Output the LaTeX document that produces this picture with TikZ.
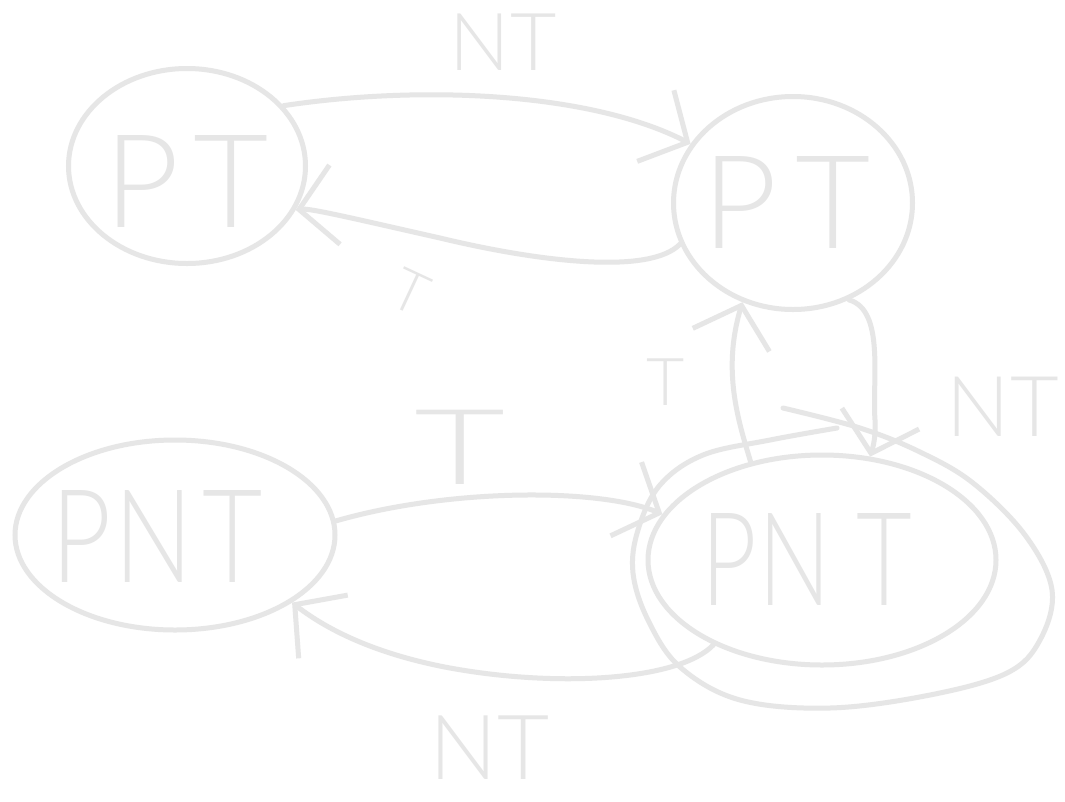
\documentclass[tikz,border=0pt]{standalone}
\usepackage{fontspec}
\usetikzlibrary{shapes.geometric,arrows.meta}
\IfFontExistsTF{Lato Light}{\newfontfamily\hand{Lato Light}}{%
  \IfFontExistsTF{Open Sans Light}{\newfontfamily\hand{Open Sans Light}}{%
   \IfFontExistsTF{Lato Thin}{\newfontfamily\hand{Lato Thin}}{%
    \newfontfamily\hand{Liberation Sans}}}}
\definecolor{ink}{RGB}{230,230,230}
\newcommand{\fs}[1]{\hand\fontsize{#1}{#1}\selectfont}
\begin{document}
\begin{tikzpicture}[x=1pt,y=-1pt,
  state/.style={ellipse, draw=ink, line width=5pt, inner sep=0pt, text=ink, font=\fs{130}},
  conn/.style={draw=ink, line width=5pt, line cap=round, line join=round,
    -{Straight Barb[length=36pt,width=80pt]}},
  loopline/.style={draw=ink, line width=5pt, line cap=round, line join=round},
  lbl/.style={text=ink, inner sep=0pt}]
\useasboundingbox[fill=white] (0,0) rectangle (1065,801);
% states
\node[state, minimum width=237pt, minimum height=195pt] (ptL) at (187,166)
  {\raisebox{-16pt}[\height][\depth]{P\hspace{14pt}T}};
\node[state, minimum width=239pt, minimum height=213pt] (ptR) at (793,203)
  {\hspace*{-12pt}P\hspace{18pt}T};
\node[state, minimum width=320pt, minimum height=190pt] (pntL) at (175,535)
  {\hspace*{-36pt}\raisebox{-2pt}[\height][\depth]{\scalebox{0.8}[1]{P\hspace{4pt}N\hspace{12pt}T}}};
\node[state, minimum width=348pt, minimum height=210pt] (pntR) at (822,560)
  {\hspace*{-30pt}\scalebox{0.74}[1]{P\hspace{2pt}N\hspace{34pt}T}};
% labels
\node[lbl, font=\fs{80}] (lNTa) at (503,42) {NT};
\node[lbl, font=\fs{58}, rotate=-25] (lTa) at (410,292) {T};
\node[lbl, font=\fs{105}] (lTb) at (460,447) {\scalebox{1.5}[1]{T}};
\node[lbl, font=\fs{66}] (lTc) at (666,382) {T};
\node[lbl, font=\fs{84}] (lNTb) at (1003,407) {NT};
\node[lbl, font=\fs{90}] (lNTc) at (490,748) {NT};
% connectors
\draw[conn] (ptL.32) .. controls (420,85) and (590,92) .. (ptR.150);
\draw[conn] (ptR.200) .. controls (650,275) and (540,262) .. (440,238)
  .. controls (360,220) and (310,208) .. (ptL.338);
\draw[conn] (pntL.5) .. controls (450,488) and (600,488) .. (pntR.164);
\draw[conn] (pntR.218) .. controls (680,680) and (560,688) .. (450,668)
  .. controls (380,655) and (330,632) .. (pntL.330);
\draw[conn] (pntR.126) .. controls (738,420) and (722,370) .. (ptR.243);
\draw[conn] (ptR.300) .. controls (885,310) and (872,380) .. (875,420)
  .. controls (876,440) and (872,450) .. (pntR.65);
% self loop on right PNT
\coordinate (loopS) at (783,408);
\coordinate (loopE) at (837,428);
\draw[loopline] plot[smooth, tension=0.6] coordinates {(783,408) (860,428) (920,452) (973,483)
  (1025,535) (1052,590) (1040,640) (1007,673) (930,695) (830,708) (740,700) (680,667)
  (648,620) (633,573) (638,530) (660,485) (703,455) (770,440) (837,428)};
\end{tikzpicture}
\end{document}
